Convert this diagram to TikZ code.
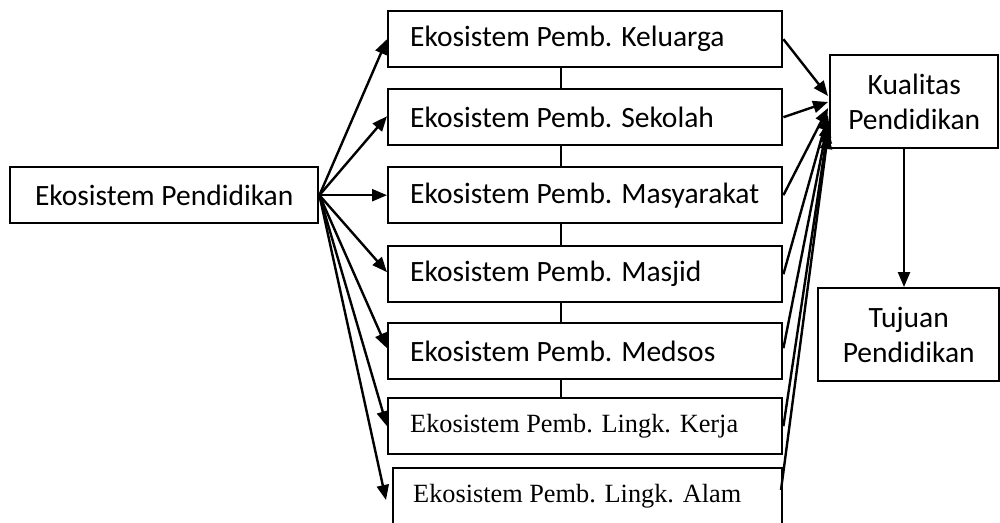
\documentclass[tikz,border=0pt]{standalone}
\usepackage{fontspec}
\setmainfont{Carlito}
\newfontfamily\serifface{Liberation Serif}
\usetikzlibrary{arrows.meta}
\begin{document}
\begin{tikzpicture}[x=1pt,y=-1pt,
  box/.style={draw,line width=2.4pt,anchor=north west,inner sep=0pt,font=\fontsize{29.5}{35}\selectfont},
  midbox/.style={box,minimum height=56pt,text width=350pt,inner xsep=22pt,align=flush left},
  serifbox/.style={midbox,font=\serifface\fontsize{26.3}{33}\selectfont},
  sidebox/.style={box,align=center},
  link/.style={line width=2.4pt,-{Triangle[length=15pt,width=12pt]}},
  joint/.style={line width=2.4pt}]
\useasboundingbox (0,0) rectangle (1000,522);
\clip (0,0) rectangle (1000,522);

% source box
\node[box,minimum width=308pt,minimum height=56pt] (src) at (9,166) {Ekosistem Pendidikan};

% column of learning ecosystems
\node[midbox] (kel) at (387,10)  {Ekosistem Pemb. Keluarga};
\node[midbox] (sek) at (387,88)  {Ekosistem Pemb. Sekolah};
\node[midbox] (mas) at (387,166) {Ekosistem Pemb. Masyarakat};
\node[midbox] (msj) at (387,245) {Ekosistem Pemb. Masjid};
\node[midbox] (med) at (387,322) {Ekosistem Pemb. Medsos};
\node[serifbox] (ker) at (387,397) {Ekosistem Pemb. Lingk. Kerja};
\node[serifbox,text width=349pt,inner xsep=20pt] (alm) at (392,467) {Ekosistem Pemb. Lingk. Alam};

% outcome boxes
\node[sidebox,minimum width=168pt,minimum height=93pt] (kua) at (829,54) {Kualitas\\Pendidikan};
\node[sidebox,minimum width=181pt,minimum height=93pt] (tuj) at (817,287) {Tujuan\\Pendidikan};

% vertical joints between the column boxes
\coordinate (spine) at (561,0);
\draw[joint] (kel.south -| spine) -- (sek.north -| spine);
\draw[joint] (sek.south -| spine) -- (mas.north -| spine);
\draw[joint] (mas.south -| spine) -- (msj.north -| spine);
\draw[joint] (msj.south -| spine) -- (med.north -| spine);
\draw[joint] (med.south -| spine) -- (ker.north -| spine);

% fan-out from the source
\coordinate (tipalm) at (386,500);
\draw[link] (src.east) -- (kel.west);
\draw[link] (src.east) -- ([yshift=1pt]sek.west);
\draw[link] (src.east) -- (mas.west);
\draw[link] (src.east) -- ([yshift=2pt]msj.west);
\draw[link] (src.east) -- ([yshift=3pt]med.west);
\draw[link] (src.east) -- (ker.west);
\draw[link] (src.east) -- (tipalm);

% fan-in to quality of education
\coordinate (inkel) at (828,96);
\coordinate (insek) at (828,102);
\coordinate (inmas) at (828,108);
\coordinate (inmsj) at (828,115);
\coordinate (inmed) at (828,122);
\coordinate (inker) at (828,128);
\coordinate (inalm) at (828,134);
\coordinate (outalm) at (781,490);
\draw[link] (kel.east) -- (inkel);
\draw[link] (sek.east) -- (insek);
\draw[link] (mas.east) -- (inmas);
\draw[link] (msj.east) -- (inmsj);
\draw[link] ([yshift=3pt]med.east) -- (inmed);
\draw[link] (ker.east) -- (inker);
\draw[link] (outalm) -- (inalm);

% quality leads to goals
\draw[link] (kua.south -| 904,0) -- (tuj.north -| 904,0);
\end{tikzpicture}
\end{document}
